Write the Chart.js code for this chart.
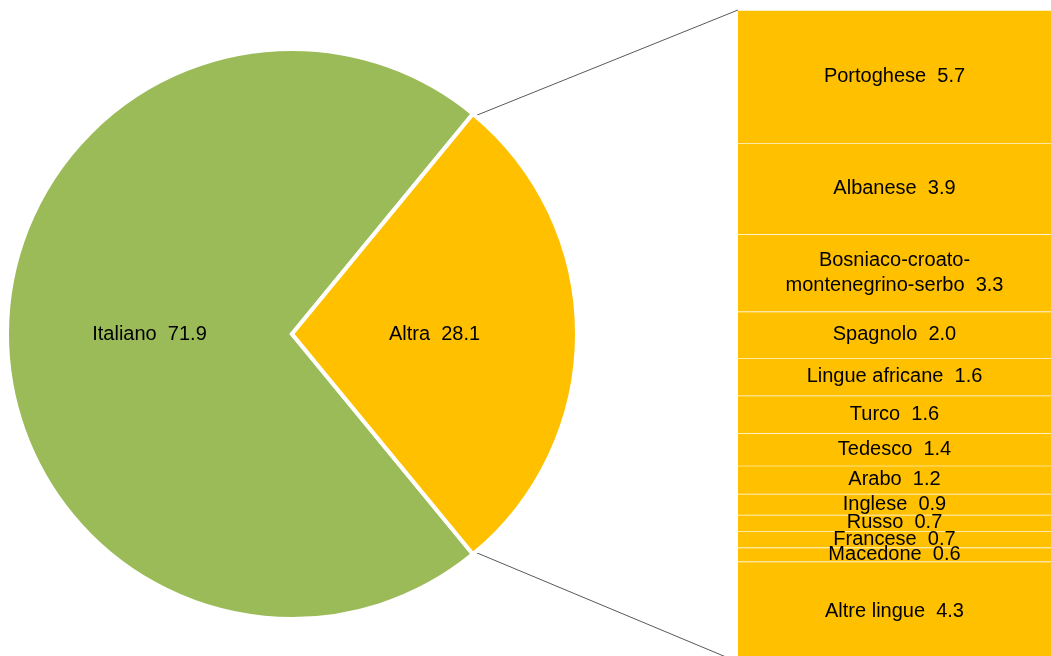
<!DOCTYPE html>
<html>
<head>
<meta charset="utf-8">
<script src="https://cdn.jsdelivr.net/npm/chart.js@4"></script>
<style>
  html, body { margin: 0; padding: 0; background: #fff; overflow: hidden; }
  #wrap { position: relative; width: 1051px; height: 656px; overflow: hidden; }
  #wrap canvas { position: absolute; }
</style>
</head>
<body>
<div id="wrap">
  <canvas id="links" width="1051" height="656" style="left:0;top:0"></canvas>
  <canvas id="pie" width="574" height="574" style="left:5px;top:47px"></canvas>
  <canvas id="bar" width="313" height="672" style="left:738px;top:0"></canvas>
</div>
<script>
// main pie
const pieLabels = ['Italiano', 'Altra'];
const pieValues = [71.9, 28.1];
const pieColors = ['#9BBB59', '#FFC000'];

// breakdown of "Altra"
const langLabels = ['Portoghese', 'Albanese', 'Bosniaco-croato-\nmontenegrino-serbo', 'Spagnolo',
  'Lingue africane', 'Turco', 'Tedesco', 'Arabo', 'Inglese', 'Russo', 'Francese', 'Macedone', 'Altre lingue'];
const langValues = [5.7, 3.9, 3.3, 2.0, 1.6, 1.6, 1.4, 1.2, 0.9, 0.7, 0.7, 0.6, 4.3];

const FONT = '20px "Liberation Sans", Arial, sans-serif';
const fmt = v => v.toFixed(1);

function drawLabel(ctx, text, x, y) {
  const lines = text.split('\n');
  const lh = 25;
  let y0 = y - (lines.length - 1) * lh / 2;
  lines.forEach(function (l, i) {
    ctx.fillText(l, x, y0 + i * lh);
  });
}

// rotate so that "Altra" is centred on the right side
const total = pieValues.reduce((a, b) => a + b, 0);
const altraSweep = pieValues[1] / total * 360;
const startAltra = -altraSweep / 2;
const rotation = ((startAltra + 90 - pieValues[0] / total * 360) % 360 + 360) % 360;

const pieLabelPlugin = {
  id: 'pieLabels',
  afterDatasetsDraw(chart) {
    const ctx = chart.ctx;
    ctx.save();
    ctx.font = FONT;
    ctx.fillStyle = '#000';
    ctx.textAlign = 'center';
    ctx.textBaseline = 'middle';
    chart.getDatasetMeta(0).data.forEach(function (arc, i) {
      const p = arc.getCenterPoint();
      drawLabel(ctx, pieLabels[i] + '  ' + fmt(pieValues[i]), p.x, p.y);
    });
    ctx.restore();
  }
};

const barLabelPlugin = {
  id: 'barLabels',
  afterDatasetsDraw(chart) {
    const ctx = chart.ctx;
    ctx.save();
    ctx.font = FONT;
    ctx.fillStyle = '#000';
    ctx.textAlign = 'center';
    ctx.textBaseline = 'middle';
    chart.data.datasets.forEach(function (ds, i) {
      const el = chart.getDatasetMeta(i).data[0];
      const last = ds.label.split('\n');
      drawLabel(ctx, ds.label + '  ' + fmt(ds.data[0]), el.x, (el.y + el.base) / 2);
    });
    ctx.restore();
  }
};

const pieChart = new Chart(document.getElementById('pie'), {
  type: 'pie',
  data: {
    labels: pieLabels,
    datasets: [{
      data: pieValues,
      backgroundColor: pieColors,
      borderColor: '#fff',
      borderWidth: 4,
      borderJoinStyle: 'miter',
    }],
  },
  options: {
    responsive: false,
    animation: false,
    rotation: rotation,
    layout: { padding: 0 },
    events: [],
    plugins: { legend: { display: false }, tooltip: { enabled: false } },
  },
  plugins: [pieLabelPlugin],
});

const barChart = new Chart(document.getElementById('bar'), {
  type: 'bar',
  data: {
    labels: [''],
    datasets: langLabels.map(function (l, i) {
      return {
        label: l,
        data: [langValues[i]],
        backgroundColor: '#FFC000',
        borderColor: '#fff',
        borderWidth: { top: 1, right: 0, bottom: 0, left: 0 },
        borderSkipped: false,
        categoryPercentage: 1,
        barPercentage: 1,
      };
    }),
  },
  options: {
    responsive: false,
    animation: false,
    events: [],
    layout: { padding: { top: 10, bottom: 10, left: 0, right: 0 } },
    plugins: { legend: { display: false }, tooltip: { enabled: false } },
    scales: {
      x: { stacked: true, display: false },
      y: {
        stacked: true, display: false, reverse: true,
        min: 0, max: langValues.reduce((a, b) => a + b, 0),
      },
    },
  },
  plugins: [barLabelPlugin],
});

// connector lines between the "Altra" slice and the stacked bar
(function drawLinks() {
  const ctx = document.getElementById('links').getContext('2d');
  const pieBox = { x: 5, y: 47 };
  const barBox = { x: 738, y: 0 };
  const arc = pieChart.getDatasetMeta(0).data[1];
  const r = arc.outerRadius - 2;
  const cx = pieBox.x + arc.x, cy = pieBox.y + arc.y;
  const a1 = arc.startAngle + 2 / r, a2 = arc.endAngle - 2 / r;
  const area = barChart.chartArea;
  ctx.strokeStyle = '#595959';
  ctx.lineWidth = 1;
  ctx.beginPath();
  ctx.moveTo(cx + r * Math.cos(a1), cy + r * Math.sin(a1));
  ctx.lineTo(barBox.x + area.left, barBox.y + area.top);
  ctx.moveTo(cx + r * Math.cos(a2), cy + r * Math.sin(a2));
  ctx.lineTo(barBox.x + area.left, barBox.y + area.bottom);
  ctx.stroke();
})();
</script>
</body>
</html>
